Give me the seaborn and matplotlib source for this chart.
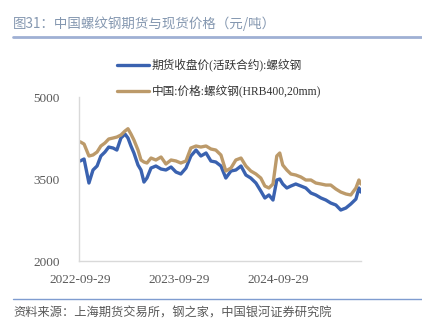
import matplotlib
matplotlib.use("Agg")
import matplotlib.pyplot as plt
import matplotlib.dates as mdates
import seaborn as sns
import pandas as pd

dates = ["2022-09-29", "2022-10-14", "2022-11-01", "2022-11-16", "2022-12-01", "2022-12-15",
         "2022-12-30", "2023-01-13", "2023-01-29", "2023-02-12", "2023-02-27", "2023-03-14",
         "2023-03-25", "2023-04-05", "2023-04-16", "2023-05-01", "2023-05-12", "2023-05-23",
         "2023-06-03", "2023-06-18", "2023-07-06", "2023-07-25", "2023-08-12", "2023-08-31",
         "2023-09-18", "2023-10-06", "2023-10-25", "2023-11-12", "2023-12-01", "2023-12-19",
         "2024-01-07", "2024-01-25", "2024-02-12", "2024-03-02", "2024-03-20", "2024-04-08",
         "2024-04-26", "2024-05-15", "2024-06-02", "2024-06-20", "2024-07-09", "2024-07-27",
         "2024-08-11", "2024-08-26", "2024-09-10", "2024-09-24", "2024-10-05", "2024-10-16",
         "2024-10-31", "2024-11-15", "2024-12-03", "2024-12-22", "2025-01-09", "2025-01-28",
         "2025-02-15", "2025-03-06", "2025-03-24", "2025-04-11", "2025-04-30", "2025-05-18",
         "2025-06-06", "2025-06-24", "2025-07-13", "2025-07-24", "2025-07-31"]

futures = [3829, 3866, 3427, 3665, 3738, 3921, 3994, 4085, 4067, 4030, 4250, 4323,
           4250, 4104, 3976, 3756, 3665, 3445, 3518, 3701, 3738, 3683, 3665, 3720,
           3628, 3592, 3701, 3921, 4030, 3921, 3976, 3829, 3811, 3738, 3518, 3647,
           3665, 3738, 3573, 3518, 3427, 3281, 3153, 3208, 3116, 3482, 3500, 3409,
           3336, 3372, 3409, 3372, 3336, 3244, 3208, 3153, 3116, 3061, 3025, 2933,
           2970, 3043, 3134, 3336, 3262]

spot = [4182, 4140, 3921, 3940, 3994, 4104, 4159, 4232, 4250, 4268, 4305, 4378,
        4420, 4323, 4213, 4030, 3848, 3811, 3793, 3884, 3848, 3903, 3775, 3848,
        3830, 3793, 3830, 4067, 4104, 4085, 4104, 4049, 4030, 3939, 3647, 3701,
        3848, 3884, 3738, 3647, 3592, 3518, 3372, 3336, 3409, 3921, 3976, 3756,
        3665, 3592, 3573, 3537, 3482, 3482, 3427, 3409, 3390, 3390, 3317, 3262,
        3226, 3208, 3336, 3482, 3409]

series_names = ["期货收盘价(活跃合约):螺纹钢", "中国:价格:螺纹钢(HRB400,20mm)"]
tick_dates = ["2022-09-29", "2023-09-29", "2024-09-29"]
y_ticks = [2000, 3500, 5000]

title = "图31：中国螺纹钢期货与现货价格（元/吨）"
source = "资料来源：上海期货交易所，钢之家，中国银河证券研究院"

sns.set_theme(style="white")
plt.rcParams['font.family'] = ['Liberation Serif', 'Noto Sans CJK SC', 'DejaVu Sans']

df = pd.DataFrame({
    "date": pd.to_datetime(dates * 2),
    "value": futures + spot,
    "series": [series_names[0]] * len(dates) + [series_names[1]] * len(dates),
})

fig = plt.figure(figsize=(4.22, 3.30), dpi=100)
ax = fig.add_axes([0.187, 0.209, 0.668, 0.497])

palette = {series_names[0]: "#3A62B0", series_names[1]: "#BC9A6A"}
sns.lineplot(data=df, x="date", y="value", hue="series", palette=palette,
             linewidth=2.4, ax=ax, legend=False)

ax.set_ylim(2000, 5000)
ax.set_yticks(y_ticks)
ax.set_xlim(pd.Timestamp("2022-09-25"), pd.Timestamp("2025-07-31"))
ax.set_xticks(pd.to_datetime(tick_dates))
ax.xaxis.set_major_formatter(mdates.DateFormatter("%Y-%m-%d"))
ax.set_xlabel("")
ax.set_ylabel("")
ax.tick_params(axis="both", length=0, labelsize=9.5, colors="#595959")
ax.tick_params(axis="y", pad=14)
ax.tick_params(axis="x", pad=9)
for s in ["top", "right"]:
    ax.spines[s].set_visible(False)
for s in ["left", "bottom"]:
    ax.spines[s].set_color("#D9D9D9")
    ax.spines[s].set_linewidth(1.0)

# legend
lx0, lx1, ltx = 117 / 422, 149 / 422, 152 / 422
for yy, name in [(65, series_names[0]), (91, series_names[1])]:
    yf = 1 - yy / 330
    fig.add_artist(plt.Line2D([lx0, lx1], [yf, yf], color=palette[name], linewidth=2.4,
                              transform=fig.transFigure))
    fig.text(ltx, yf, name, fontsize=8.4, color="#333333", va="center", ha="left",
             family=['Liberation Serif', 'Noto Sans CJK SC'])

# title and rules
fig.text(13 / 422, 1 - 24 / 330, title, fontsize=9.7, color="#8497B0", va="center", ha="left",
         family=['Noto Sans CJK SC', 'DejaVu Sans'])
fig.add_artist(plt.Line2D([13 / 422, 1.0], [1 - 37 / 330, 1 - 37 / 330], color="#9FB0D4",
                          linewidth=2.0, transform=fig.transFigure))
fig.add_artist(plt.Line2D([13 / 422, 1.0], [1 - 299 / 330, 1 - 299 / 330], color="#7F9CD0",
                          linewidth=1.0, transform=fig.transFigure))
fig.text(13 / 422, 1 - 313 / 330, source, fontsize=8.8, color="#595959", va="center", ha="left",
         style="italic", family=['Noto Sans CJK SC', 'DejaVu Sans'])

fig.savefig("out.png", dpi=100)
